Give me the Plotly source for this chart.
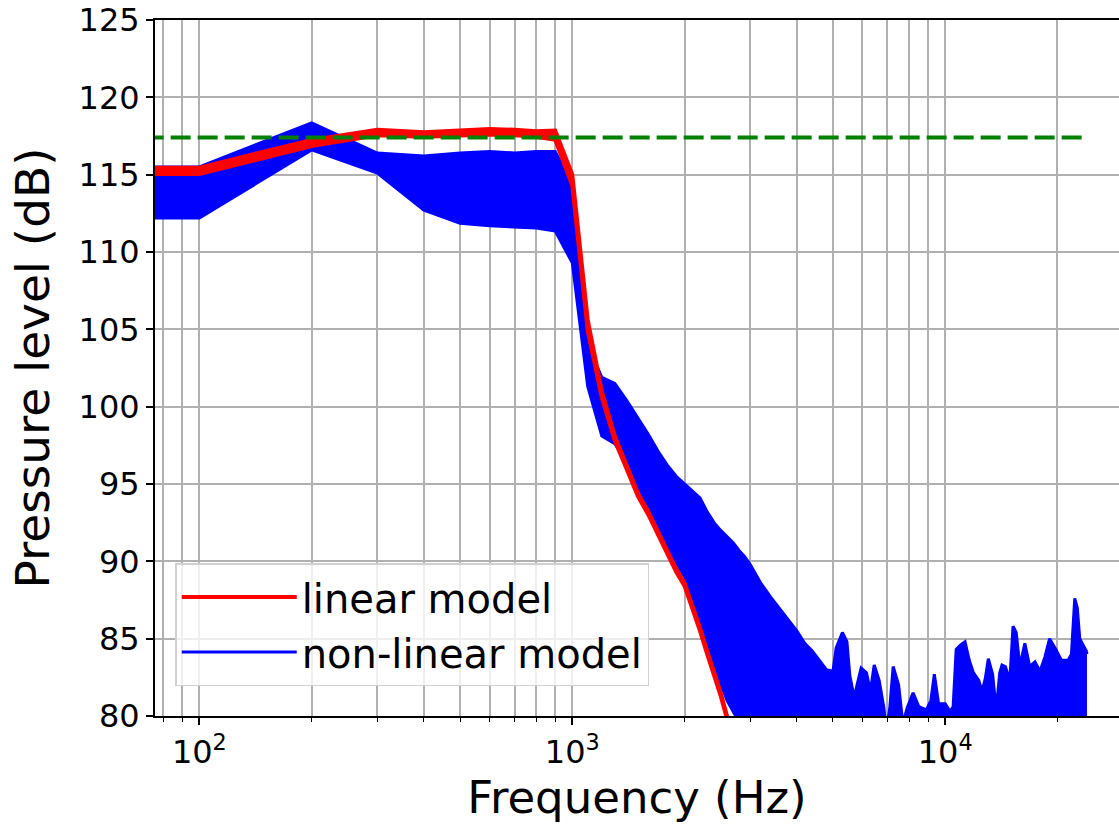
import plotly.graph_objects as go

# Non-linear model: the band of blue curves, given as its upper and lower envelope
blue_top_hz = [60, 100, 200, 300, 400, 500, 600, 700, 800, 900, 1000, 1100, 1200, 1300, 1400,
               1500, 1600, 1700, 1800, 1900, 2000, 2100, 2200, 2300, 2400, 2500, 2600, 2700, 2800,
               2900, 3000, 3200, 3400, 3600, 3800, 4000, 4200, 4400, 4600, 4800, 5000, 5100, 5300,
               5450, 5550, 5700, 5800, 5950, 6150, 6300, 6450, 6650, 6850, 6950, 7100, 7250, 7500,
               7700, 7900, 8200, 8500, 8900, 9150, 9350, 9600, 10000, 10300, 10500, 10700, 11000,
               11300, 11600, 11900, 12300, 12550, 12800, 13050, 13400, 13700, 14000, 14200, 14500,
               14900, 15200, 15500, 15850, 16350, 16850, 17400, 17950, 18500, 19050, 19800, 20500,
               21350, 21800, 22250, 22600, 22950, 23500, 23900, 24000]
blue_top_db = [115.5, 115.5, 118.35, 116.4, 116.2, 116.4, 116.5, 116.4, 116.5, 116.5, 114.4, 104.0,
               101.9, 101.5, 100.4, 99.3, 98.2, 97.1, 96.2, 95.5, 95.0, 94.5, 94.1, 93.2, 92.5, 92.0,
               91.6, 91.2, 90.7, 90.3, 89.8, 88.6, 87.7, 86.9, 86.2, 85.5, 84.7, 84.2, 83.6, 83.0,
               82.9, 84.4, 85.4, 84.8, 82.6, 81.2, 82.0, 83.1, 82.8, 81.6, 83.3, 82.3, 80.5, 79.0,
               80.5, 83.2, 82.0, 79.5, 80.5, 81.5, 80.6, 80.4, 81.0, 82.7, 80.8, 80.8, 80.3, 80.6,
               84.3, 84.6, 84.8, 83.6, 82.8, 82.3, 81.6, 82.4, 83.7, 82.7, 80.4, 82.8, 83.3, 83.2,
               82.3, 85.8, 85.4, 83.2, 84.7, 83.2, 83.5, 82.9, 83.8, 85.0, 84.3, 83.6, 83.6, 84.0,
               87.6, 87.0, 85.0, 84.5, 84.2, 84.0]

blue_bottom_hz = [60, 100, 200, 300, 400, 500, 600, 700, 800, 900, 1000, 1100, 1200, 1300, 1400,
                  1500, 1600, 1700, 1800, 1900, 2000, 2100, 2200, 2300, 2400, 2500, 2600, 2700,
                  2800, 2900, 3000, 24000]
blue_bottom_db = [112.2, 112.2, 116.6, 115.1, 112.7, 111.85, 111.7, 111.6, 111.55, 111.35, 109.3,
                  101.3, 98.1, 97.6, 96.4, 94.6, 93.5, 92.3, 91.0, 89.9, 89.0, 87.6, 86.1, 84.7,
                  83.4, 82.1, 81.0, 80.3, 79.6, 78.6, 76.0, 76.0]

# Linear model: thin band of red curves
red_hz = [60, 100, 200, 300, 400, 500, 600, 700, 800, 900, 1000, 1100, 1200, 1300, 1400, 1500,
          1600, 1700, 1800, 1900, 2000, 2100, 2200, 2300, 2400, 2500, 2600, 2700]
red_hi_db = [115.45, 115.45, 117.25, 117.9, 117.75, 117.85, 117.95, 117.9, 117.8, 117.85, 115.0,
             105.6, 101.0, 98.1, 96.2, 94.4, 93.2, 91.9, 90.6, 89.5, 88.6, 87.2, 85.7, 84.2, 82.9,
             81.5, 80.0, 78.5]
red_lo_db = [115.05, 115.05, 116.85, 117.55, 117.45, 117.5, 117.6, 117.55, 117.45, 117.25, 114.3,
             104.9, 100.6, 97.8, 95.9, 94.2, 93.0, 91.7, 90.4, 89.3, 88.4, 87.0, 85.5, 84.0, 82.7,
             81.3, 79.8, 78.3]

# Reference level (green dashed)
ref_hz = [60, 24000]
ref_db = [117.4, 117.4]

x_major = [100, 1000, 10000]
x_major_text = ['10<sup>2</sup>', '10<sup>3</sup>', '10<sup>4</sup>']
x_minor = [80, 90, 200, 300, 400, 500, 600, 700, 800, 900, 2000, 3000, 4000, 5000, 6000, 7000,
           8000, 9000, 20000]
y_ticks = [80, 85, 90, 95, 100, 105, 110, 115, 120, 125]

FONT = 'DejaVu Sans'
GRID = '#b0b0b0'

fig = go.Figure()

fig.add_trace(go.Scatter(x=blue_bottom_hz, y=blue_bottom_db, mode='lines',
                         line=dict(color='blue', width=3), name='non-linear model',
                         legendrank=2))
fig.add_trace(go.Scatter(x=blue_top_hz, y=blue_top_db, mode='lines', fill='tonexty',
                         fillcolor='blue', line=dict(color='blue', width=3),
                         showlegend=False))
fig.add_trace(go.Scatter(x=red_hz, y=red_lo_db, mode='lines',
                         line=dict(color='red', width=4), name='linear model', legendrank=1))
fig.add_trace(go.Scatter(x=red_hz, y=red_hi_db, mode='lines', fill='tonexty',
                         fillcolor='red', line=dict(color='red', width=4), showlegend=False))
fig.add_trace(go.Scatter(x=ref_hz, y=ref_db, mode='lines',
                         line=dict(color='green', width=4, dash='20px,7px'),
                         showlegend=False))

fig.update_xaxes(
    type='log', range=[1.881, 4.466], automargin=False,
    showline=True, linecolor='black', linewidth=1.8, mirror=True,
    ticks='outside', ticklen=7, tickwidth=1.5, tickcolor='black',
    tickvals=x_major, ticktext=x_major_text,
    tickfont=dict(family=FONT, size=32, color='black'),
    showgrid=True, gridcolor=GRID, gridwidth=1.5, zeroline=False,
    minor=dict(tickvals=x_minor, ticks='outside', ticklen=4, tickwidth=1.2, tickcolor='black',
               showgrid=True, gridcolor=GRID, gridwidth=1.5),
    title=dict(text='Frequency (Hz)', font=dict(family=FONT, size=45, color='black'), standoff=6),
)
fig.update_yaxes(
    range=[80, 125], tickvals=y_ticks, automargin=False,
    showline=True, linecolor='black', linewidth=1.8, mirror=False,
    ticks='outside', ticklen=7, tickwidth=1.5, tickcolor='black',
    tickfont=dict(family=FONT, size=32, color='black'),
    showgrid=True, gridcolor=GRID, gridwidth=1.5, zeroline=False,
    title=dict(text='Pressure level (dB)', font=dict(family=FONT, size=47, color='black'),
               standoff=14),
)

fig.update_layout(
    width=1119, height=826,
    margin=dict(l=155, r=0, t=20, b=110),
    paper_bgcolor='white', plot_bgcolor='white',
    font=dict(family=FONT, color='black'),
    legend=dict(x=0.021, y=0.043, xanchor='left', yanchor='bottom', traceorder='normal',
                bgcolor='rgba(255,255,255,0.8)', bordercolor='#d0d0d0', borderwidth=1.5,
                font=dict(family=FONT, size=40, color='black'), itemwidth=115,
                tracegroupgap=0),
)

# drop the page's default body margin so the figure sits at the window's corner
fig.write_html("out.html", config={'displayModeBar': False},
               post_script="document.body.style.margin='0px';")
